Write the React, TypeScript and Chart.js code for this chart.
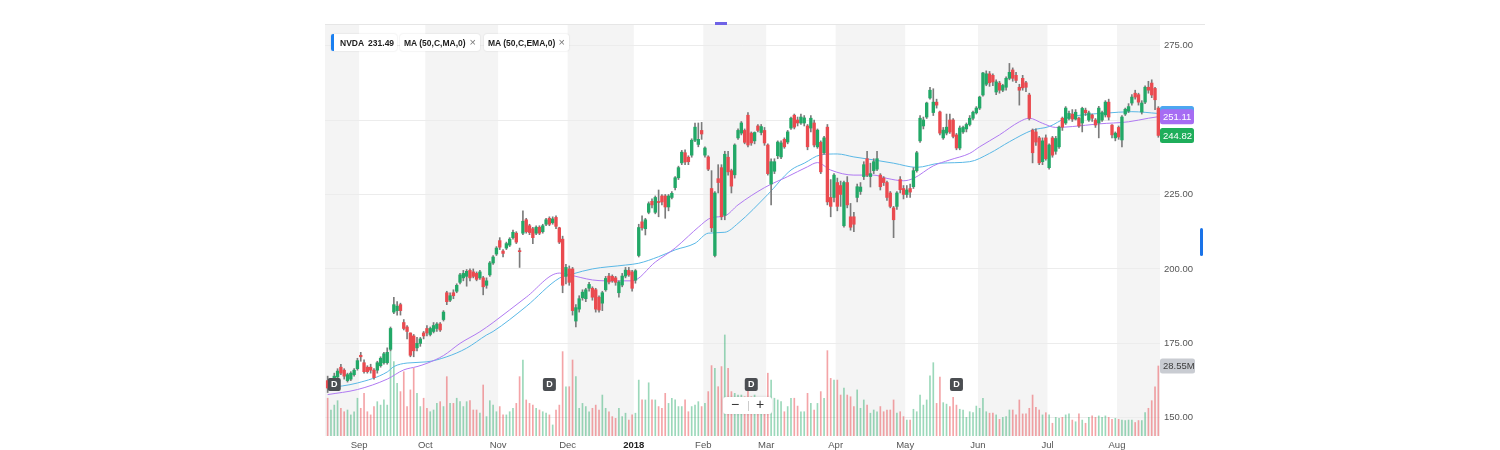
import React, { useEffect, useRef } from "react";
import { Chart, registerables } from "chart.js";

Chart.register(...registerables);

const FONT = '"Liberation Sans", Arial, Helvetica, sans-serif';

const monthStarts = [10, 30, 52, 73, 93, 114, 133, 154, 175, 197, 218, 239];
const monthLabels = ["Sep", "Oct", "Nov", "Dec", "2018", "Feb", "Mar", "Apr", "May", "Jun", "Jul", "Aug"];
const priceTicks = [150, 175, 200, 225, 250, 275];
const dividendIdx = [2, 67, 128, 190];

const openP = [
  162.5,160,162,163.7,167,166,162.5,163,164.5,166.5,
  171,168.5,167,167,166,166,167.5,168.5,168.5,173,
  185.5,186,188,182,180.5,178.5,177.5,173.5,175,178.5,
  180,178,179,180,181.5,183,192,189.5,192,192.5,
  195.5,197,197.5,199.5,199,198.5,197,197,194.5,198,
  202,205,209.5,206,207,208,210.5,212,206,212,
  216.5,214.5,213.5,212,214,212.5,215,217,215.5,217.3,
  213.8,210,197.5,200,200,182.5,186.5,190.3,190,193.5,
  193.5,193,190.5,188.5,193,197.6,197.5,197,192,194.6,
  197.6,199.5,199,196.2,204.5,215.8,213.5,219,222.7,219,
  222.5,224.5,224.5,220.8,224,227.3,230.6,235.6,239,237.5,
  238.2,243.2,241.8,246.5,238.2,237.6,227,204.5,230.3,234,
  218,237.5,233,231.6,244,245.6,246.5,251.6,245.6,243,
  248,245.8,246.5,241.6,228.5,232.8,238,237.6,243.5,242.6,
  247.3,251.6,250,249,249,248,247.3,249,241,242.5,
  239,247.6,224,224,229,228,214.5,229,217.5,217.5,
  224,226,231,237,231,233,233.5,231.5,230.5,229,
  225.5,220.5,221,230,227,225,227,227.6,233,243,
  248,251,257.4,252.5,256,252.7,244,245.6,250,250,
  245,240.6,246,247,248.5,250.6,252.4,254,258.4,262,
  265.5,265,259.4,262.4,260,261,264,266.8,265,261,
  264,262.5,258.4,246.6,246,244,236,244,234,244,
  239.5,241,250.6,249,250.5,252,250.3,250.6,249,253.3,
  250,251.7,250,249,250,251.7,256,248.3,244,247.5,
  243.3,252,253,255.7,259,258.5,252.7,256,261,262.4,
  260.6,254
];
const highP = [
  164,163,165,166.5,168,166.5,165,165.5,166.5,170,
  172,169.5,167.5,168,166.5,169,170.5,172,173.5,180.5,
  190.5,189,188.5,183,181,178.5,178,177,177,179,
  181,180.5,182,182,182,186,192.5,192,193,195,
  198.5,199.5,199.8,200,200,199,199.5,197.5,197,202.5,
  204.5,207.5,210.5,206.5,209,210.5,213,212.5,207,219.5,
  217,215,214,214.5,214.5,215,217,217.5,217.5,217.8,
  214,211,201.5,201,200.5,188,191,193,193.5,195.5,
  194,193.5,191,192.5,197.5,198.5,198,197.5,196,198.5,
  200.5,200.5,199.5,199.8,215,217.8,217,222.5,223.5,224.5,
  226.5,225,225,225,226,231,234.5,239.8,240,238,
  243.7,249,249,249.2,241,238,233,226,235,235,
  239.5,239.5,233.5,242,247,249.5,247,252.5,246,246,
  248.5,248.5,247.5,242,237,237,243,243,244,246.5,
  251,252,251,252,251.5,248.5,251.5,250,247,243,
  244.5,248.5,230,232,230.5,229.5,229.5,231,222,219,
  228.5,229,236,239.5,235.5,237,239.5,232,231,229.5,
  226,221,226,231,228,228,228.5,234,239.5,251.5,
  251,256,261,260.5,257,253,247.5,252,252,250.5,
  245.5,248,248,249,251.5,253,254.5,258,266,266.5,
  266.3,265.5,263.5,263,262,264.5,269,267.5,266,262,
  265,263,259,247,247,244.5,244,245,242,244.5,
  244.5,248,251,254.5,253,253.5,253.5,251,254.3,254,
  253,252,250.5,254.6,253,256.5,257,248.5,246,248,
  251.5,254,255.5,258.5,260,259,256.5,261.5,263,263.5,
  261,254.5
];
const lowP = [
  158.5,159.5,161.5,163,164.5,163,162,162.5,164,166,
  169,165,165,165,163,165,167,168,168,172.5,
  185,184.5,184.5,179.5,176.5,170.5,170.5,172.5,174,176.5,
  177.5,177.5,178.5,179,179,182.5,188,189,190,192,
  195,196,194.2,196,197,196,196.5,191.3,193.5,197.5,
  201.5,204.5,206.5,204,206.5,207.5,210,208.5,200.5,211.5,
  212,211.5,208.5,211.5,211.5,212,214.5,214.5,215,213.5,
  208.5,192,195,194.5,184.5,180.5,185.5,189.5,189,192.5,
  189.5,185.5,185.5,186,192.5,195,195.5,194.5,190.5,194,
  197,197.5,192.5,195.2,204,213,211.4,218.5,220.5,218.5,
  217.5,221.5,217,219.5,223.5,226.5,230,235,235,235,
  237.5,242.7,241,243.5,237.5,233,212.5,204,225.5,216.5,
  216.5,231.5,225.5,230.5,243.5,245,242,241,241.5,242,
  246,245,241.5,231.5,221.5,232,237,237,240.5,242,
  246.8,247,248,248.5,248,240,246,241,240.5,232,
  238.5,221.5,217.5,222.5,219.5,221,214,220.5,213,212.5,
  222.5,225,230,231,227.5,232,233,226.5,228,223,
  220.5,210.5,220,225.5,223.5,224,224,227,232.5,242.5,
  247,250.5,257,251.5,254,245,243.5,245,245.5,244,
  240,240,245.5,246,248,250,252,253.5,258,261.5,
  261.3,261.5,258.5,259,259.5,260,263.5,263,262.5,255,
  260,259.5,250,235.6,241.5,235,235,236.5,233.5,237.5,
  238.5,240.5,246.5,248.5,250,249.5,250,247.5,246,251.5,
  249.5,249.5,247.5,244,249.5,251,250,244,243,243.5,
  241,251.5,252.5,255,257,255,252,255.5,259,257.5,
  253.5,244.2
];
const closeP = [
  160,162.5,164,165.7,165,164,164.5,165,166,169.2,
  170.5,165.5,165.5,166,163.5,168.5,170,171.5,172,180,
  188,187.5,186,180,179,171,172.5,175,176.5,177.5,
  178.5,180,181,181.5,179.5,185.5,189,191,191,194.5,
  198,198.5,199.2,197,197.5,196.5,199,194,196,202,
  204,207,207.3,205.2,208.5,210,212.3,209,205.8,216,
  212.5,212.2,210.5,214,212,214.5,216.5,215,216.8,214.3,
  209,194.5,200.5,195.5,186,187,190,192.2,193,194.8,
  190.5,186.5,186.2,192,196.8,195.6,196,195.5,195.6,197.6,
  199.6,198,193.5,199.4,213.9,213.8,216.5,221.9,221.5,224,
  222.3,222.5,220.8,224.5,225.4,230.6,234,239.2,235.9,236,
  243.2,247.6,243.5,245.3,240.6,233.5,213.8,225.5,229,217.5,
  238.5,232.6,227.8,241.6,246.5,249,242.5,241.6,242.3,245.8,
  246.5,247.8,242.3,232,236,236,242.6,242.3,241,246,
  250.6,247.6,249,251,250.7,241,250.6,241.6,246.6,232.6,
  244,222.5,221,231.5,221,225,229,221.5,214,215,
  227.6,227.5,235,231.5,232,236,237,227.6,229,224,
  221,216.5,225.5,226.6,225,226.5,225.8,233,239,250.6,
  250,255.7,260,256,255,245.6,246.6,247.6,246,244.5,
  240.6,247.3,247.5,248.5,250.6,252.6,254,257.7,265.8,265.5,
  262.5,262.8,262.8,260,261.6,264,266,264,263.3,260,
  260.8,261,250.6,239,242.6,235.6,243,237,241.6,238.2,
  243.8,247.6,247.6,254,252.2,250.3,252.6,248,253.9,252.4,
  252.4,250.6,248.3,254,252.5,256,251,245,245.6,244.3,
  251,253.6,254.5,257.7,257.7,256,255.7,261,260,258.4,
  256.8,244.82
];
const volumeM = [
  15.4,10.6,12.6,14.4,11.3,9.9,10.6,8.6,9.9,15.4,
  11.3,17.4,9.9,8.6,12,14,12.6,14.7,12.6,35.1,
  30.3,21.5,18.1,26.2,12,18.8,27.6,17.4,12,15.4,
  11.3,9.9,10.6,13.3,14,12,24.2,13.3,13.3,15.4,
  14,12,14,14.4,10.6,10.6,9.3,20.8,7.9,14.4,
  12.6,9.9,12,8.6,8.6,9.9,11.3,13.3,24.2,31,
  14.7,13.3,12.6,11.3,10.6,9.9,9.3,8.6,4.5,10.6,
  12.6,34.4,20.1,20.1,31,24.2,11.3,13.3,12,9.9,
  11.3,12.6,10.6,16.7,11.3,9.9,7.9,7.2,11.3,7.9,
  9.3,6.5,8.6,9.3,22.8,14.7,14.7,21.7,14.7,14.7,
  12,11.3,17.4,13.3,15.4,14.7,12,12,14.7,9.9,
  12,12.6,14,12,13.3,18.1,28.7,27.6,20.1,28.3,
  41.2,27.6,18.1,17.4,16.7,16.7,16,19.5,16,16.7,
  15.4,14,14.7,25.6,22.8,15.4,14.7,14,9.9,12,
  15.4,15.4,12.2,9.9,9.9,17.4,13.3,10.6,13.3,18.1,
  15.4,34.8,23.5,22.8,22.8,16.7,19.5,16.7,16,12,
  18.8,11.3,14.7,12.6,9.3,10.6,9.9,12,9.9,10.6,
  10.6,14.7,9.3,9.9,7.9,6.5,6.5,10.9,9.9,16.7,
  12.6,14.7,24.5,29.9,13.3,24,13.6,13,12,15.8,
  12.6,10.9,10.6,7.6,9.9,9.5,12.2,11.3,15.4,9.9,
  9.3,9.3,8.6,6.8,7.6,7.9,10.6,10.6,8.6,14.7,
  9,9,11.3,16.7,11.7,10.6,8.6,9.5,8.6,5.2,
  7.6,7.2,7.6,8.6,9,6.5,5.8,9,6.5,5.2,
  7.6,8.2,7.6,8.2,7.6,8.2,7.6,6.8,7.2,6.8,
  6.5,6.3,6.5,6.5,5.5,6.3,6.3,9.5,11.3,14.4,
  20.1,28.55
];

const smaIdx = [0,9,18,23,27,30,35,40,46,50,60,70,73,80,84,92,99,105,109,112,116,120,124,132,139,145,148,152,159,165,169,174,177,183,188,194,197,203,209,212,216,220,225,233,242,248,251];
const smaVal = [157.8,159.5,163,166.1,167.2,168.3,170.9,175,178.9,182,190.5,198.6,198,196.3,196,196,202.3,207,211,214,217.2,217.8,221.5,227.3,231,234.3,235.7,233.2,231.5,231.5,230.4,229.6,230.4,234.6,236.6,238.8,241,245,249.4,250.6,248.9,247.5,247.8,248.7,249.4,250.6,251.11];
const emaIdx = [0,9,18,20,24,30,36,42,48,50,60,70,74,80,90,94,100,105,111,115,120,124,133,140,144,149,154,159,165,171,178,185,194,200,206,213,218,223,228,235,243,251];
const emaVal = [160,161.7,165.4,167.2,168.4,168.8,170.5,173.4,177.8,179,187.4,196.9,198.3,200,201.3,201.9,204.1,206.4,208.6,212,212.3,215.3,225,233.2,235.5,238.3,238.6,237.6,236.6,235.5,234.1,235.5,236,238.8,242.7,246.6,247.8,250.6,251.7,252.3,252.8,252.2];

const lastClose = 244.82;
const smaLast = 251.11;
const emaLast = 252.2;
const volLast = 28.55;

const GREEN = "#22a867";
const RED = "#ea4a4f";

function roundRect(ctx: CanvasRenderingContext2D, x: number, y: number, w: number, h: number, r: number) {
  ctx.beginPath();
  ctx.moveTo(x + r, y);
  ctx.lineTo(x + w - r, y);
  ctx.quadraticCurveTo(x + w, y, x + w, y + r);
  ctx.lineTo(x + w, y + h - r);
  ctx.quadraticCurveTo(x + w, y + h, x + w - r, y + h);
  ctx.lineTo(x + r, y + h);
  ctx.quadraticCurveTo(x, y + h, x, y + h - r);
  ctx.lineTo(x, y + r);
  ctx.quadraticCurveTo(x, y, x + r, y);
  ctx.closePath();
}

const overlayPlugin = {
  id: "overlay",
  beforeDraw(chart: any) {
    const { ctx, chartArea: a, scales } = chart;
    const x = scales.x;
    const bounds = [x.min, ...monthStarts.map((m) => m - 0.5), x.max];
    ctx.save();
    ctx.fillStyle = "#f4f4f4";
    for (let k = 0; k < bounds.length - 1; k += 2) {
      const x0 = x.getPixelForValue(bounds[k]);
      const x1 = x.getPixelForValue(bounds[k + 1]);
      ctx.fillRect(x0, a.top, x1 - x0, a.bottom - a.top);
    }
    ctx.restore();
  },
  afterDraw(chart: any) {
    const { ctx, chartArea: a, scales } = chart;
    const x = scales.x;
    const y = scales.y;
    const yv = scales.yv;
    ctx.save();
    ctx.font = `bold 9px ${FONT}`;
    ctx.textAlign = "center";
    ctx.textBaseline = "middle";
    for (const d of dividendIdx) {
      const cx = x.getPixelForValue(d);
      roundRect(ctx, cx - 6.5, a.bottom - 58, 13, 13, 2);
      ctx.fillStyle = "#4b4e52";
      ctx.fill();
      ctx.fillStyle = "#ffffff";
      ctx.fillText("D", cx, a.bottom - 51.3);
    }
    const tag = (val: number, scale: any, bg: string, fg: string, text: string, w: number) => {
      const py = scale.getPixelForValue(val);
      roundRect(ctx, a.right, py - 7.5, w, 15, 2.5);
      ctx.fillStyle = bg;
      ctx.fill();
      if (text) {
        ctx.fillStyle = fg;
        ctx.textAlign = "left";
        ctx.textBaseline = "middle";
        ctx.font = `9.5px ${FONT}`;
        ctx.fillText(text, a.right + 3, py + 0.5);
      }
    };
    tag(emaLast, y, "#4da6f0", "#ffffff", "", 34);
    tag(smaLast, y, "#a66cf3", "#ffffff", smaLast.toFixed(2), 34);
    tag(lastClose, y, "#1fae5b", "#ffffff", lastClose.toFixed(2), 34);
    tag(volLast, yv, "#c9ccd2", "#3c3c3c", volLast.toFixed(2) + "M", 35);
    ctx.restore();
  },
};

export default function App() {
  const canvasRef = useRef<HTMLCanvasElement | null>(null);

  useEffect(() => {
    document.body.style.overflow = "hidden";
    const canvas = canvasRef.current;
    if (!canvas) return;
    const n = closeP.length;
    const up = closeP.map((c, i) => c >= openP[i]);

    const bodies = closeP.map((c, i) => ({ x: i, y: [openP[i], c] }));
    const wicks = closeP.map((_, i) => ({ x: i, y: [lowP[i], highP[i]] }));
    const vols = volumeM.map((v, i) => ({ x: i, y: v }));
    const sma = smaIdx.map((i, k) => ({ x: i, y: smaVal[k] }));
    const ema = emaIdx.map((i, k) => ({ x: i, y: emaVal[k] }));

    const chart = new Chart(canvas, {
      type: "bar",
      data: {
        datasets: [
          {
            type: "bar",
            data: bodies as any,
            yAxisID: "y",
            grouped: false,
            barThickness: 2.7,
            minBarLength: 1,
            backgroundColor: up.map((u) => (u ? GREEN : RED)),
            borderWidth: 0,
            order: 0,
          } as any,
          {
            type: "bar",
            data: wicks as any,
            yAxisID: "y",
            grouped: false,
            barThickness: 1,
            backgroundColor: "#7b7b7b",
            borderWidth: 0,
            order: 1,
          } as any,
          {
            type: "line",
            data: sma as any,
            yAxisID: "y",
            borderColor: "#b07af2",
            borderWidth: 1,
            pointRadius: 0,
            cubicInterpolationMode: "monotone",
            order: 2,
          } as any,
          {
            type: "line",
            data: ema as any,
            yAxisID: "y",
            borderColor: "#5ab8e6",
            borderWidth: 1,
            pointRadius: 0,
            cubicInterpolationMode: "monotone",
            order: 3,
          } as any,
          {
            type: "bar",
            data: vols as any,
            yAxisID: "yv",
            grouped: false,
            barThickness: 1,
            backgroundColor: up.map((u) => (u ? "rgba(34,168,103,0.45)" : "rgba(234,74,79,0.5)")),
            borderWidth: 0,
            order: 4,
          } as any,
        ],
      },
      options: {
        responsive: false,
        animation: false,
        events: [],
        layout: { padding: 0 },
        plugins: { legend: { display: false }, tooltip: { enabled: false } },
        scales: {
          x: {
            type: "linear",
            min: -0.8,
            max: n - 0.5,
            offset: false,
            grid: { display: false, drawTicks: false, offset: false },
            border: { display: false },
            afterBuildTicks: (s: any) => {
              s.ticks = monthStarts.map((m) => ({ value: m - 0.5 }));
            },
            afterFit: (s: any) => {
              s.height = 14;
              s.paddingLeft = 0;
              s.paddingRight = 0;
            },
            ticks: {
              autoSkip: false,
              maxRotation: 0,
              padding: 4,
              callback: (v: any) => {
                const k = monthStarts.indexOf(Math.round(Number(v) + 0.5));
                return k >= 0 ? monthLabels[k] : "";
              },
              font: (c: any) => ({
                family: FONT,
                size: 9.5,
                weight: c.tick && c.tick.label === "2018" ? "bold" : "normal",
              }),
              color: (c: any) => (c.tick && c.tick.label === "2018" ? "#222" : "#555"),
            },
          } as any,
          y: {
            type: "linear",
            position: "right",
            min: 143.9,
            max: 281.9,
            afterBuildTicks: (s: any) => {
              s.ticks = priceTicks.map((v) => ({ value: v }));
            },
            afterFit: (s: any) => {
              s.width = 45;
              s.paddingTop = 0;
              s.paddingBottom = 0;
            },
            grid: { color: "#ececec", drawTicks: false },
            border: { display: false },
            ticks: {
              padding: 4,
              callback: (v: any) => Number(v).toFixed(2),
              font: { family: FONT, size: 9.5 },
              color: "#555",
            },
          } as any,
          yv: {
            type: "linear",
            display: false,
            min: 0,
            max: 167.6,
          } as any,
        },
      } as any,
      plugins: [overlayPlugin as any],
    });
    return () => chart.destroy();
  }, []);

  const chipBase: React.CSSProperties = {
    position: "absolute",
    top: 34,
    height: 17,
    background: "#fff",
    borderRadius: 3,
    boxShadow: "0 0 2px rgba(0,0,0,0.14)",
    display: "flex",
    alignItems: "center",
    fontFamily: FONT,
    fontSize: 8.5,
    fontWeight: "bold",
    color: "#1d1d1d",
    whiteSpace: "nowrap",
    boxSizing: "border-box",
  };
  const xStyle: React.CSSProperties = {
    position: "absolute",
    right: 4,
    top: 0,
    fontWeight: "normal",
    fontSize: 11,
    color: "#777",
    lineHeight: "17px",
  };

  return (
    <>
      <div style={{ position: "absolute", left: 325, top: 24, width: 880, height: 1, background: "#e6e6e6" }} />
      <div style={{ position: "absolute", left: 715, top: 22, width: 12, height: 3, background: "#6f63e6" }} />
      <div style={{ position: "absolute", left: 325, top: 25, width: 880, height: 425 }}>
        <canvas ref={canvasRef} width={880} height={425} style={{ display: "block", width: 880, height: 425 }} />
      </div>
      <div style={{ ...chipBase, left: 331, width: 66, paddingLeft: 9 }}>
        <span style={{ position: "absolute", left: 0, top: 0, width: 3, height: 17, background: "#1a7ff0", borderRadius: "2px 0 0 2px" }} />
        <span>NVDA</span>
        <span style={{ marginLeft: 4 }}>231.49</span>
      </div>
      <div style={{ ...chipBase, left: 400, width: 80, paddingLeft: 4 }}>
        <span>MA (50,C,MA,0)</span>
        <span style={xStyle}>×</span>
      </div>
      <div style={{ ...chipBase, left: 484, width: 85, paddingLeft: 4 }}>
        <span>MA (50,C,EMA,0)</span>
        <span style={xStyle}>×</span>
      </div>
      <div
        style={{
          position: "absolute",
          left: 723,
          top: 397,
          width: 49,
          height: 17,
          background: "#fff",
          borderRadius: 3,
          boxShadow: "0 0 3px rgba(0,0,0,0.15)",
          fontFamily: FONT,
          fontSize: 14,
          color: "#333",
        }}
      >
        <span style={{ position: "absolute", left: 8, top: -1, lineHeight: "17px" }}>−</span>
        <span style={{ position: "absolute", left: 25, top: 4, width: 1, height: 10, background: "#ccc" }} />
        <span style={{ position: "absolute", left: 33, top: -1, lineHeight: "17px" }}>+</span>
      </div>
      <div style={{ position: "absolute", left: 1200, top: 228, width: 3, height: 28, background: "#1a73e8", borderRadius: 2 }} />
    </>
  );
}
